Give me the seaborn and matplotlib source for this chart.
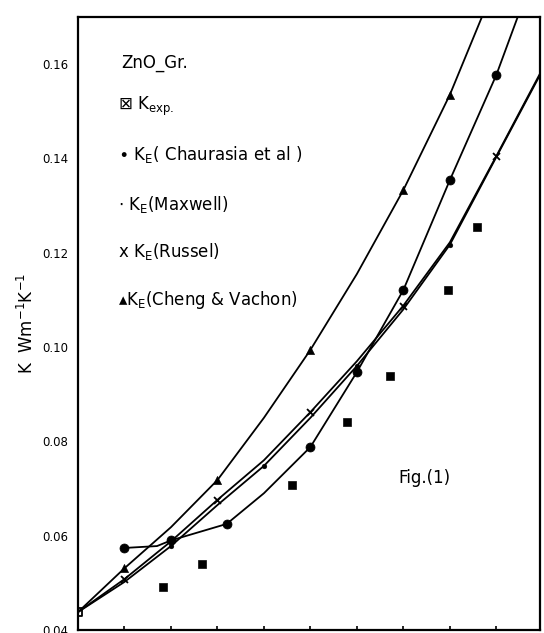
import numpy as np
import pandas as pd
import matplotlib
matplotlib.use("Agg")
import matplotlib.pyplot as plt
import seaborn as sn

# K_exp (squares, no line)
exp_x = [0.0, 1.83, 2.67, 4.6, 5.78, 6.71, 7.96, 8.58]
exp_y = [0.0438, 0.0491, 0.054, 0.0708, 0.0841, 0.0939, 0.1121, 0.1255]

# K_E Chaurasia et al (circles)
chau_x = [1.0, 1.7, 2.0, 3.2, 4.0, 5.0, 6.0, 7.0, 8.0, 9.0, 9.46]
chau_y = [0.0574, 0.0578, 0.0590, 0.0625, 0.0690, 0.0788, 0.0947, 0.1121, 0.1354, 0.1577, 0.1700]
chau_mx = [1.0, 2.0, 3.2, 5.0, 6.0, 7.0, 8.0, 9.0]
chau_my = [0.0574, 0.0590, 0.0625, 0.0788, 0.0947, 0.1121, 0.1354, 0.1577]

# K_E Maxwell (small dots)
max_x = [0.0, 1.0, 2.0, 3.0, 4.0, 5.0, 6.0, 7.0, 8.0, 9.0, 9.94]
max_y = [0.0438, 0.0502, 0.0578, 0.0665, 0.0748, 0.0850, 0.0960, 0.1080, 0.1217, 0.1403, 0.1577]
max_mx = [2.0, 4.0, 6.0, 8.0]
max_my = [0.0578, 0.0748, 0.0960, 0.1217]

# K_E Russel (crosses)
rus_x = [0.0, 1.0, 2.0, 3.0, 4.0, 5.0, 6.0, 7.0, 8.0, 9.0, 9.94]
rus_y = [0.0438, 0.0508, 0.0588, 0.0676, 0.0760, 0.0862, 0.0970, 0.1088, 0.1222, 0.1405, 0.1580]
rus_mx = [1.0, 3.0, 5.0, 7.0, 9.0]
rus_my = [0.0508, 0.0676, 0.0862, 0.1088, 0.1405]

# K_E Cheng & Vachon (triangles)
cv_x = [0.0, 1.0, 2.0, 3.0, 4.0, 5.0, 6.0, 7.0, 8.0, 8.69]
cv_y = [0.0438, 0.0531, 0.0618, 0.0718, 0.0850, 0.0994, 0.1155, 0.1333, 0.1535, 0.1700]
cv_mx = [1.0, 3.0, 5.0, 7.0, 8.0]
cv_my = [0.0531, 0.0718, 0.0994, 0.1333, 0.1535]

ytick_vals = [0.04, 0.06, 0.08, 0.10, 0.12, 0.14, 0.16]
ytick_text = ["0.04", "0.06", "0.08", "0.10", "0.12", "0.14", "0.16"]

sn.set_style("white")
plt.rcParams['font.family'] = ['DejaVu Sans']
plt.rcParams['text.color'] = 'black'
plt.rcParams['axes.labelcolor'] = 'black'
plt.rcParams['ytick.color'] = 'black'
plt.rcParams['xtick.color'] = 'black'

fig = plt.figure(figsize=(5.44, 6.33), dpi=100)
ax = fig.add_axes([78 / 544, 3 / 633, 462 / 544, 613 / 633])

# curvas
for cx, cy in [(chau_x, chau_y), (max_x, max_y), (rus_x, rus_y), (cv_x, cv_y)]:
    sn.lineplot(x=cx, y=cy, ax=ax, color="black", linewidth=1.3, sort=False)

# marcadores
sn.scatterplot(x=exp_x[1:], y=exp_y[1:], ax=ax, marker="s", s=34, color="black", edgecolor="black")
sn.scatterplot(x=exp_x[:1], y=exp_y[:1], ax=ax, marker="s", s=40, facecolor="white", edgecolor="black", linewidth=1.3)
sn.scatterplot(x=chau_mx, y=chau_my, ax=ax, marker="o", s=42, color="black", edgecolor="black")
sn.scatterplot(x=max_mx, y=max_my, ax=ax, marker="o", s=12, color="black", edgecolor="black")
sn.scatterplot(x=rus_mx, y=rus_my, ax=ax, marker="x", s=25, color="black", linewidth=1.3)
sn.scatterplot(x=cv_mx, y=cv_my, ax=ax, marker="^", s=34, color="black", edgecolor="black")

ax.set_xlim(0, 9.94)
ax.set_ylim(0.04, 0.17)
ax.set_xticks(np.arange(1, 10))
ax.set_xticklabels([])
ax.set_yticks(ytick_vals)
ax.set_yticklabels(ytick_text, fontsize=8.5)
ax.tick_params(axis="y", length=0, pad=7, labelcolor="black")
ax.tick_params(axis="x", direction="in", length=3, width=1.2, bottom=True)
for s in ax.spines.values():
    s.set_color("black")
    s.set_linewidth(1.6)

ax.set_ylabel(r"K  Wm$^{-1}$K$^{-1}$", fontsize=12, labelpad=4, color="black")

# leyenda escrita a mano
tx = lambda px: (px - 78) / 462
ty = lambda py: (630 - py) / 613
kw = dict(transform=ax.transAxes, fontsize=12, va="center", ha="left", color="black")
ax.text(tx(121), ty(63), "ZnO_Gr.", **kw)
ax.text(tx(118), ty(106), r"$\boxtimes$ K$_{\rm exp.}$", **kw)
ax.text(tx(118), ty(155), r"$\bullet$ K$_{\rm E}$( Chaurasia et al )", **kw)
ax.text(tx(118), ty(205), r"$\cdot$ K$_{\rm E}$(Maxwell)", **kw)
ax.text(tx(118), ty(252), r"x K$_{\rm E}$(Russel)", **kw)
ax.text(tx(118), ty(300), r"$\blacktriangle$K$_{\rm E}$(Cheng & Vachon)", **kw)
ax.text(tx(398), ty(478), "Fig.(1)", **kw)

fig.savefig("out.png", dpi=100)
